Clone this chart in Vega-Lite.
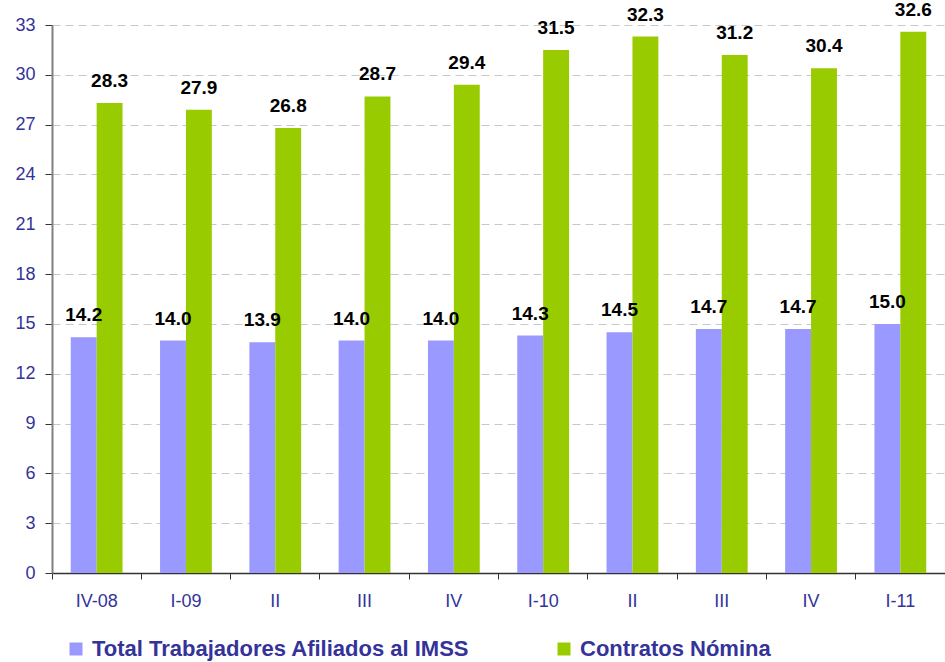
{
  "$schema": "https://vega.github.io/schema/vega-lite/v6.json",
  "width": 893,
  "height": 548,
  "autosize": {"type": "none"},
  "padding": {"left": 52, "top": 25, "right": 0, "bottom": 89},
  "background": "white",
  "config": {"view": {"stroke": null}, "font": "Liberation Sans"},
  "data": {"values": [
    {"q": "IV-08", "serie": "Total Trabajadores Afiliados al IMSS", "v": 14.2},
    {"q": "I-09", "serie": "Total Trabajadores Afiliados al IMSS", "v": 14.0},
    {"q": "II-09", "serie": "Total Trabajadores Afiliados al IMSS", "v": 13.9},
    {"q": "III-09", "serie": "Total Trabajadores Afiliados al IMSS", "v": 14.0},
    {"q": "IV-09", "serie": "Total Trabajadores Afiliados al IMSS", "v": 14.0},
    {"q": "I-10", "serie": "Total Trabajadores Afiliados al IMSS", "v": 14.3},
    {"q": "II-10", "serie": "Total Trabajadores Afiliados al IMSS", "v": 14.5},
    {"q": "III-10", "serie": "Total Trabajadores Afiliados al IMSS", "v": 14.7},
    {"q": "IV-10", "serie": "Total Trabajadores Afiliados al IMSS", "v": 14.7},
    {"q": "I-11", "serie": "Total Trabajadores Afiliados al IMSS", "v": 15.0},
    {"q": "IV-08", "serie": "Contratos Nómina", "v": 28.3},
    {"q": "I-09", "serie": "Contratos Nómina", "v": 27.9},
    {"q": "II-09", "serie": "Contratos Nómina", "v": 26.8},
    {"q": "III-09", "serie": "Contratos Nómina", "v": 28.7},
    {"q": "IV-09", "serie": "Contratos Nómina", "v": 29.4},
    {"q": "I-10", "serie": "Contratos Nómina", "v": 31.5},
    {"q": "II-10", "serie": "Contratos Nómina", "v": 32.3},
    {"q": "III-10", "serie": "Contratos Nómina", "v": 31.2},
    {"q": "IV-10", "serie": "Contratos Nómina", "v": 30.4},
    {"q": "I-11", "serie": "Contratos Nómina", "v": 32.6}
  ]},
  "encoding": {
    "xOffset": {"field": "serie", "type": "nominal", "sort": ["Total Trabajadores Afiliados al IMSS", "Contratos Nómina"]},
    "y": {"field": "v", "type": "quantitative", "scale": {"domain": [0, 33], "nice": false, "zero": true}}
  },
  "layer": [
    {
      "mark": {"type": "bar"},
      "encoding": {
        "x": {"field": "q", "type": "nominal", "sort": null,
          "scale": {"paddingInner": 0.42, "paddingOuter": 0.21},
          "axis": {"title": null, "orient": "bottom", "ticks": false, "labelAngle": 0, "labelColor": "#333399", "labelFontSize": 18, "labelPadding": 19, "domainColor": "#333333", "domainWidth": 1.5,
            "labelExpr": "indexof(['I-09','I-10','IV-08','I-11'], datum.value) >= 0 ? datum.value : split(datum.value,'-')[0]"}},
        "y": {"field": "v", "type": "quantitative",
          "axis": {"title": null, "values": [0,3,6,9,12,15,18,21,24,27,30,33], "labelColor": "#333399", "labelFontSize": 18, "labelPadding": 10, "tickSize": 7, "tickColor": "#333333", "domainColor": "#808080", "domainWidth": 2, "gridColor": "#C8C8C8", "gridDash": [8, 5], "gridWidth": 1}},
        "color": {"field": "serie", "type": "nominal",
          "scale": {"domain": ["Total Trabajadores Afiliados al IMSS", "Contratos Nómina"], "range": ["#9999FF", "#99CC00"]},
          "legend": {"title": null, "orient": "none", "direction": "horizontal", "columns": 2, "legendX": 13, "legendY": 613,
            "symbolType": "square", "symbolSize": 169, "symbolStrokeWidth": 0, "labelFontSize": 22, "labelFontWeight": "bold", "labelColor": "#333399", "labelLimit": 600, "labelOffset": 5, "columnPadding": 83}}
      }
    },
    {
      "mark": {"type": "text", "fontWeight": "bold", "fontSize": 19, "color": "black", "baseline": "alphabetic", "dy": -16},
      "encoding": {
        "x": {"field": "q", "type": "nominal", "sort": null,
          "axis": {"title": null, "orient": "bottom", "labels": false, "ticks": true, "tickSize": 6, "tickColor": "#333333", "domain": false, "bandPosition": -0.362}},
        "text": {"field": "v", "type": "quantitative", "format": ".1f"}
      }
    }
  ],
  "resolve": {"axis": {"x": "independent"}}
}
